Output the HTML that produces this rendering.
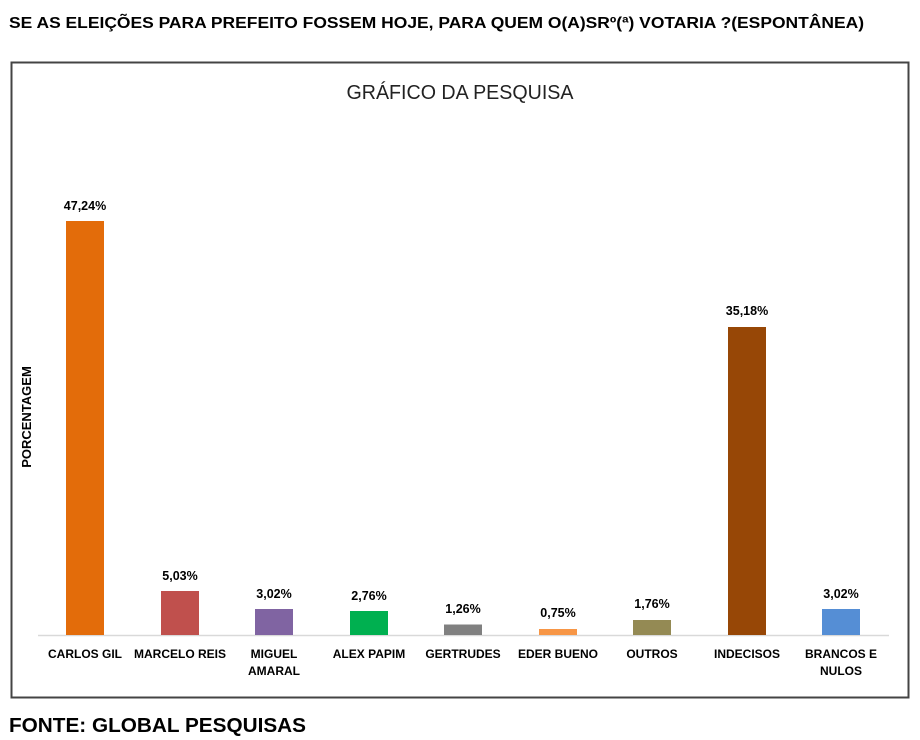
<!DOCTYPE html>
<html><head><meta charset="utf-8"><style>body{margin:0;background:#fff}svg{display:block}</style></head><body>
<svg width="920" height="740" xmlns="http://www.w3.org/2000/svg" font-family="Liberation Sans, Arial, sans-serif">
<rect width="920" height="740" fill="#fff"/>
<text x="9" y="28" font-size="16" font-weight="bold" fill="#000" textLength="855" lengthAdjust="spacingAndGlyphs">SE AS ELEIÇÕES PARA PREFEITO FOSSEM HOJE, PARA QUEM O(A)SRº(ª) VOTARIA ?(ESPONTÂNEA)</text>
<rect x="11.5" y="62.5" width="897" height="635" fill="#fff" stroke="#444" stroke-width="2"/>
<text x="460" y="99" font-size="20" text-anchor="middle" fill="#222" textLength="227" lengthAdjust="spacingAndGlyphs">GRÁFICO DA PESQUISA</text>
<text transform="translate(31,417) rotate(-90)" font-size="13" font-weight="bold" text-anchor="middle" fill="#000">PORCENTAGEM</text>
<line x1="38" y1="635.5" x2="889" y2="635.5" stroke="#d9d9d9" stroke-width="1.5"/>
<g font-size="12.5" font-weight="bold" text-anchor="middle" fill="#000">
<rect x="66" y="221" width="38" height="414" fill="#E36C0A"/><text x="85" y="210">47,24%</text>
<rect x="161" y="591" width="38" height="44" fill="#C0504D"/><text x="180" y="580">5,03%</text>
<rect x="255" y="609" width="38" height="26" fill="#8064A2"/><text x="274" y="598">3,02%</text>
<rect x="350" y="611" width="38" height="24" fill="#00B050"/><text x="369" y="600">2,76%</text>
<rect x="444" y="624.5" width="38" height="10.5" fill="#808080"/><text x="463" y="613">1,26%</text>
<rect x="539" y="629" width="38" height="6" fill="#F79646"/><text x="558" y="617">0,75%</text>
<rect x="633" y="620" width="38" height="15" fill="#948A54"/><text x="652" y="608">1,76%</text>
<rect x="728" y="327" width="38" height="308" fill="#974706"/><text x="747" y="315">35,18%</text>
<rect x="822" y="609" width="38" height="26" fill="#558ED5"/><text x="841" y="598">3,02%</text>
</g>
<g font-size="12" font-weight="bold" text-anchor="middle" fill="#000">
<text x="85" y="658">CARLOS GIL</text>
<text x="180" y="658">MARCELO REIS</text>
<text x="274" y="658">MIGUEL</text><text x="274" y="675">AMARAL</text>
<text x="369" y="658">ALEX PAPIM</text>
<text x="463" y="658">GERTRUDES</text>
<text x="558" y="658">EDER BUENO</text>
<text x="652" y="658">OUTROS</text>
<text x="747" y="658">INDECISOS</text>
<text x="841" y="658">BRANCOS E</text><text x="841" y="675">NULOS</text>
</g>
<text x="9" y="732" font-size="20" font-weight="bold" fill="#000" textLength="297" lengthAdjust="spacingAndGlyphs">FONTE: GLOBAL PESQUISAS</text>
</svg>
</body></html>
